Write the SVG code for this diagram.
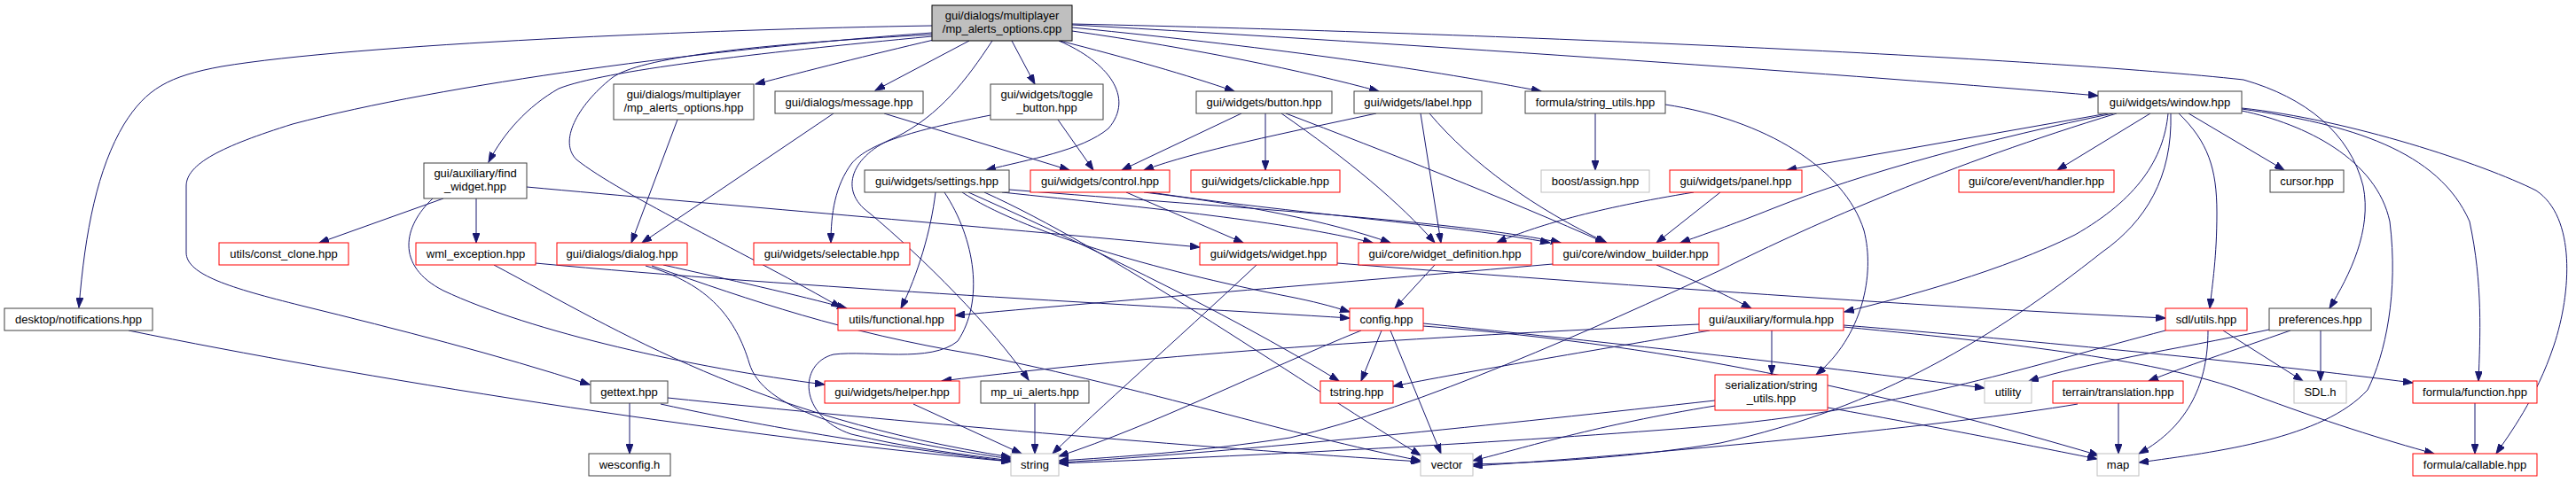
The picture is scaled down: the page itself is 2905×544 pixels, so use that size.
<svg xmlns="http://www.w3.org/2000/svg" width="2905" height="544" viewBox="0 0 2905 544">
<style>
text{font-family:"Liberation Sans",Arial,sans-serif;font-size:13px;fill:#000;text-anchor:middle}
.b rect{fill:#fff;stroke:#404040;stroke-width:1}
.r rect{fill:#fff;stroke:#ff0000;stroke-width:1}
.g rect{fill:#fff;stroke:#bfbfbf;stroke-width:1}
.root rect{fill:#bfbfbf;stroke:#000;stroke-width:1}
#edges path{fill:none;stroke:#191970;stroke-width:1;marker-end:url(#ah)}
</style>
<defs>
<marker id="ah" markerUnits="userSpaceOnUse" markerWidth="12" markerHeight="8" refX="11" refY="4" orient="auto">
<path d="M0,0 L11,4 L0,8 z" fill="#191970" stroke="#191970" stroke-width="1"/>
</marker>
</defs>
<rect width="2905" height="544" fill="#fff"/>
<g id="edges">
<path d="M1051,29 C800,33 400,50 250,75 C190,86 165,100 140,140 C110,190 96,260 89,347"/>
<path d="M1051,37 C800,55 500,95 330,140 C250,165 210,185 210,210 L210,285 C210,310 260,325 340,345 C450,372 560,400 665,434"/>
<path d="M1051,41 C850,60 680,80 630,100 C595,120 568,150 551,183"/>
<path d="M1051,39 C850,50 720,65 690,88 C650,120 630,160 650,180 C700,220 850,290 948,347"/>
<path d="M1053,45 C980,62 910,80 852,95"/>
<path d="M1093,46 L987,102"/>
<path d="M1141,46 L1167,95"/>
<path d="M1194,46 C1250,70 1280,110 1250,145 C1220,170 1160,180 1112,192"/>
<path d="M1119,46 C1090,90 1060,130 1010,155 C960,175 945,215 980,240 C1040,290 1120,370 1160,429"/>
<path d="M1195,46 C1270,65 1340,85 1392,103"/>
<path d="M1209,35 C1350,55 1470,80 1555,103"/>
<path d="M1209,31 C1450,55 1620,80 1738,103"/>
<path d="M1209,28 C1600,50 2100,85 2366,108"/>
<path d="M1209,27 C1700,38 2300,65 2530,90 C2600,110 2650,150 2665,210 C2675,260 2650,310 2627,348"/>
<path d="M764,135 L712,274"/>
<path d="M940,128 L724,274"/>
<path d="M997,128 L1206,192"/>
<path d="M1193,135 L1233,192"/>
<path d="M1117,130 C1040,145 980,160 960,185 C942,210 937,240 937,274"/>
<path d="M1400,128 L1265,192"/>
<path d="M1427,128 L1427,192"/>
<path d="M1445,128 C1520,180 1580,230 1618,274"/>
<path d="M1450,128 C1560,170 1700,225 1810,274"/>
<path d="M1552,128 C1450,150 1350,170 1290,192"/>
<path d="M1602,128 L1625,274"/>
<path d="M1612,128 C1660,185 1730,235 1812,274"/>
<path d="M1799,128 L1799,192"/>
<path d="M1878,118 C1990,135 2080,190 2102,260 C2115,310 2100,380 2048,423"/>
<path d="M2377,128 L2015,192"/>
<path d="M2383,128 C2250,155 2100,195 2000,235 C1950,255 1920,265 1895,274"/>
<path d="M2425,128 L2320,192"/>
<path d="M2468,128 L2576,192"/>
<path d="M2457,128 C2490,160 2500,190 2500,240 C2500,290 2495,320 2492,348"/>
<path d="M2445,128 C2440,180 2410,225 2340,265 C2260,305 2150,335 2080,352"/>
<path d="M2448,128 C2450,200 2420,250 2370,285 C2250,380 2120,460 1940,500 C1850,515 1750,522 1661,524"/>
<path d="M2387,128 C2200,185 2050,250 1940,305 C1800,370 1600,460 1455,494 C1350,510 1260,516 1194,520"/>
<path d="M2528,125 C2600,140 2680,180 2695,250 C2705,330 2690,400 2670,440 C2620,495 2500,510 2412,522"/>
<path d="M2528,123 C2650,140 2750,170 2785,250 C2800,320 2797,380 2795,430"/>
<path d="M2528,122 C2650,135 2800,185 2860,215 C2905,245 2900,330 2880,390 C2860,450 2830,490 2815,512"/>
<path d="M500,224 L360,274"/>
<path d="M537,224 L537,274"/>
<path d="M594,211 C800,230 1100,255 1353,279"/>
<path d="M488,224 C455,255 445,300 500,328 C600,375 780,415 930,434"/>
<path d="M1055,217 C1050,260 1035,310 1016,348"/>
<path d="M1065,217 C1100,270 1110,340 1080,385 C1050,410 980,395 940,400 C900,410 900,470 960,490 C1020,505 1080,512 1140,520"/>
<path d="M1085,217 C1150,260 1300,305 1455,335 C1480,340 1500,345 1522,352"/>
<path d="M1092,217 C1200,265 1380,350 1510,430"/>
<path d="M1110,217 C1250,280 1450,420 1602,514"/>
<path d="M1130,217 C1300,235 1450,250 1548,274"/>
<path d="M1138,214 C1400,235 1650,250 1760,274"/>
<path d="M1270,217 L1402,274"/>
<path d="M1290,217 C1400,230 1500,250 1568,274"/>
<path d="M1297,217 C1450,240 1650,255 1748,274"/>
<path d="M1910,217 C1800,235 1730,255 1688,274"/>
<path d="M1940,217 L1868,274"/>
<path d="M748,299 C820,315 900,333 955,348"/>
<path d="M728,300 C800,320 830,360 845,410 C860,460 950,490 1140,518"/>
<path d="M735,300 C850,340 950,375 1100,400 C1300,440 1450,490 1602,520"/>
<path d="M557,299 C700,375 850,470 1140,516"/>
<path d="M604,297 C900,325 1300,345 1522,359"/>
<path d="M710,455 L710,512"/>
<path d="M745,456 C900,490 1050,510 1140,521"/>
<path d="M753,449 C1000,475 1350,505 1602,521"/>
<path d="M145,373 C400,425 800,490 1140,521"/>
<path d="M1030,456 L1152,512"/>
<path d="M1167,455 L1167,512"/>
<path d="M1417,299 C1320,390 1240,460 1187,512"/>
<path d="M1508,297 C1800,320 2200,348 2442,359"/>
<path d="M1618,299 L1573,348"/>
<path d="M1751,298 C1500,320 1250,340 1077,356"/>
<path d="M1868,299 C1920,320 1950,335 1975,348"/>
<path d="M1535,373 C1420,420 1300,480 1194,515"/>
<path d="M1558,373 L1535,430"/>
<path d="M1568,373 L1625,512"/>
<path d="M1605,365 C1900,395 2100,420 2238,438"/>
<path d="M1605,368 C1900,390 2150,450 2367,514"/>
<path d="M1916,366 C1600,380 1300,400 1062,430"/>
<path d="M1928,373 C1800,395 1650,420 1571,436"/>
<path d="M1998,373 L1998,423"/>
<path d="M2079,367 C2300,385 2550,410 2721,432"/>
<path d="M2079,369 C2300,390 2450,410 2540,445 C2620,475 2690,497 2745,512"/>
<path d="M1934,452 C1700,478 1400,510 1194,522"/>
<path d="M1934,458 C1800,480 1720,505 1661,520"/>
<path d="M2061,460 C2200,485 2300,505 2365,518"/>
<path d="M2343,456 C2200,480 1900,510 1661,526"/>
<path d="M2389,455 L2389,512"/>
<path d="M2507,373 L2597,430"/>
<path d="M2490,373 C2490,430 2470,480 2412,512"/>
<path d="M2442,373 C2300,410 2150,460 1940,480 C1700,500 1400,515 1194,523"/>
<path d="M2559,372 C2450,395 2350,410 2288,430"/>
<path d="M2583,373 C2520,395 2460,415 2423,430"/>
<path d="M2617,373 L2617,430"/>
<path d="M2791,455 L2791,512"/>
</g>
<g id="n_root" class="root"><rect x="1051" y="6" width="158" height="40"/><text x="1130" y="22">gui/dialogs/multiplayer</text><text x="1130" y="37">/mp_alerts_options.cpp</text></g>
<g id="n_mpo_hpp" class="b"><rect x="692" y="95" width="158" height="40"/><text x="771" y="111">gui/dialogs/multiplayer</text><text x="771" y="126">/mp_alerts_options.hpp</text></g>
<g id="n_message" class="b"><rect x="874" y="103" width="167" height="25"/><text x="957.5" y="120">gui/dialogs/message.hpp</text></g>
<g id="n_toggle" class="b"><rect x="1117" y="95" width="127" height="40"/><text x="1180.5" y="111">gui/widgets/toggle</text><text x="1180.5" y="126">_button.hpp</text></g>
<g id="n_button" class="b"><rect x="1349" y="103" width="153" height="25"/><text x="1425.5" y="120">gui/widgets/button.hpp</text></g>
<g id="n_label" class="b"><rect x="1527" y="103" width="144" height="25"/><text x="1599" y="120">gui/widgets/label.hpp</text></g>
<g id="n_string_utils" class="b"><rect x="1720" y="103" width="158" height="25"/><text x="1799" y="120">formula/string_utils.hpp</text></g>
<g id="n_window" class="b"><rect x="2366" y="103" width="162" height="25"/><text x="2447" y="120">gui/widgets/window.hpp</text></g>
<g id="n_find_widget" class="b"><rect x="478" y="184" width="116" height="40"/><text x="536" y="200">gui/auxiliary/find</text><text x="536" y="215">_widget.hpp</text></g>
<g id="n_settings" class="b"><rect x="975" y="192" width="163" height="25"/><text x="1056.5" y="209">gui/widgets/settings.hpp</text></g>
<g id="n_control" class="r"><rect x="1162" y="192" width="157" height="25"/><text x="1240.5" y="209">gui/widgets/control.hpp</text></g>
<g id="n_clickable" class="r"><rect x="1343" y="192" width="168" height="25"/><text x="1427" y="209">gui/widgets/clickable.hpp</text></g>
<g id="n_assign" class="g"><rect x="1738" y="192" width="122" height="25"/><text x="1799" y="209">boost/assign.hpp</text></g>
<g id="n_panel" class="r"><rect x="1883" y="192" width="149" height="25"/><text x="1957.5" y="209">gui/widgets/panel.hpp</text></g>
<g id="n_handler" class="r"><rect x="2209" y="192" width="175" height="25"/><text x="2296.5" y="209">gui/core/event/handler.hpp</text></g>
<g id="n_cursor" class="b"><rect x="2560" y="192" width="83" height="25"/><text x="2601.5" y="209">cursor.hpp</text></g>
<g id="n_const_clone" class="r"><rect x="247" y="274" width="146" height="25"/><text x="320" y="291">utils/const_clone.hpp</text></g>
<g id="n_wml_exception" class="r"><rect x="469" y="274" width="135" height="25"/><text x="536.5" y="291">wml_exception.hpp</text></g>
<g id="n_dialog" class="r"><rect x="628" y="274" width="147" height="25"/><text x="701.5" y="291">gui/dialogs/dialog.hpp</text></g>
<g id="n_selectable" class="r"><rect x="850" y="274" width="176" height="25"/><text x="938" y="291">gui/widgets/selectable.hpp</text></g>
<g id="n_widget" class="r"><rect x="1353" y="274" width="155" height="25"/><text x="1430.5" y="291">gui/widgets/widget.hpp</text></g>
<g id="n_widget_definition" class="r"><rect x="1532" y="274" width="195" height="25"/><text x="1629.5" y="291">gui/core/widget_definition.hpp</text></g>
<g id="n_window_builder" class="r"><rect x="1751" y="274" width="187" height="25"/><text x="1844.5" y="291">gui/core/window_builder.hpp</text></g>
<g id="n_notifications" class="b"><rect x="5" y="348" width="167" height="25"/><text x="88.5" y="365">desktop/notifications.hpp</text></g>
<g id="n_functional" class="r"><rect x="945" y="348" width="132" height="25"/><text x="1011" y="365">utils/functional.hpp</text></g>
<g id="n_config" class="r"><rect x="1522" y="348" width="83" height="25"/><text x="1563.5" y="365">config.hpp</text></g>
<g id="n_formula" class="r"><rect x="1916" y="348" width="163" height="25"/><text x="1997.5" y="365">gui/auxiliary/formula.hpp</text></g>
<g id="n_sdl_utils" class="r"><rect x="2442" y="348" width="92" height="25"/><text x="2488" y="365">sdl/utils.hpp</text></g>
<g id="n_preferences" class="b"><rect x="2559" y="348" width="115" height="25"/><text x="2616.5" y="365">preferences.hpp</text></g>
<g id="n_gettext" class="b"><rect x="666" y="430" width="87" height="25"/><text x="709.5" y="447">gettext.hpp</text></g>
<g id="n_helper" class="r"><rect x="930" y="430" width="152" height="25"/><text x="1006" y="447">gui/widgets/helper.hpp</text></g>
<g id="n_mp_ui_alerts" class="b"><rect x="1106" y="430" width="122" height="25"/><text x="1167" y="447">mp_ui_alerts.hpp</text></g>
<g id="n_tstring" class="r"><rect x="1489" y="430" width="82" height="25"/><text x="1530" y="447">tstring.hpp</text></g>
<g id="n_ser_string_utils" class="r"><rect x="1934" y="423" width="127" height="40"/><text x="1997.5" y="439">serialization/string</text><text x="1997.5" y="454">_utils.hpp</text></g>
<g id="n_utility" class="g"><rect x="2238" y="430" width="53" height="25"/><text x="2264.5" y="447">utility</text></g>
<g id="n_translation" class="r"><rect x="2315" y="430" width="147" height="25"/><text x="2388.5" y="447">terrain/translation.hpp</text></g>
<g id="n_sdl_h" class="g"><rect x="2587" y="430" width="59" height="25"/><text x="2616.5" y="447">SDL.h</text></g>
<g id="n_function" class="r"><rect x="2721" y="430" width="140" height="25"/><text x="2791" y="447">formula/function.hpp</text></g>
<g id="n_wesconfig" class="b"><rect x="664" y="512" width="92" height="25"/><text x="710" y="529">wesconfig.h</text></g>
<g id="n_string" class="g"><rect x="1140" y="512" width="54" height="25"/><text x="1167" y="529">string</text></g>
<g id="n_vector" class="g"><rect x="1602" y="512" width="59" height="25"/><text x="1631.5" y="529">vector</text></g>
<g id="n_map" class="g"><rect x="2365" y="512" width="47" height="25"/><text x="2388.5" y="529">map</text></g>
<g id="n_callable" class="r"><rect x="2721" y="512" width="140" height="25"/><text x="2791" y="529">formula/callable.hpp</text></g>
</svg>
